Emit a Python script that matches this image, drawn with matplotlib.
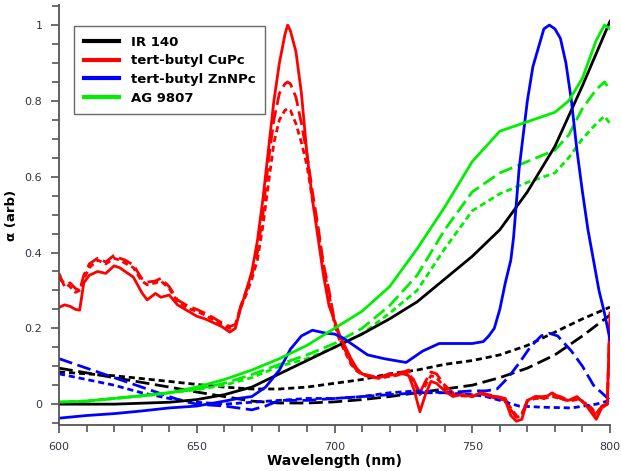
import matplotlib
matplotlib.use("Agg")
import matplotlib.pyplot as plt
from matplotlib.ticker import MultipleLocator, FuncFormatter

# ---------------- data ----------------
# IR 140
ir_wl = [600, 620, 640, 650, 660, 670, 680, 690, 700, 710, 720, 730, 740, 750, 760, 770, 780, 790, 800]
ir_solid = [0.0, 0.0, 0.005, 0.012, 0.025, 0.045, 0.08, 0.115, 0.15, 0.185, 0.225, 0.27, 0.33, 0.39, 0.46, 0.56, 0.68, 0.84, 1.01]
ir_long = [0.095, 0.07, 0.045, 0.032, 0.02, 0.008, 0.003, 0.003, 0.006, 0.012, 0.02, 0.03, 0.04, 0.05, 0.07, 0.095, 0.13, 0.18, 0.235]
ir_short = [0.085, 0.075, 0.06, 0.052, 0.045, 0.04, 0.04, 0.045, 0.055, 0.065, 0.08, 0.09, 0.105, 0.115, 0.13, 0.155, 0.19, 0.225, 0.256]

# tert-butyl CuPc
cupc_wl = [600, 602, 604, 606, 607.5, 609, 611, 614, 617, 620, 622, 624, 627, 630, 632, 635, 637, 640,
           643, 647, 650, 653, 656, 659, 662, 664, 666, 668, 670, 672, 674, 676, 678, 680, 682, 683,
           684, 686, 688, 690, 692, 694, 696, 698, 700, 702, 704, 706, 708, 710, 713, 716, 719, 722,
           725, 727, 729, 731, 733, 735, 737, 740, 743, 746, 750, 753, 756, 759, 762, 764, 766, 768,
           770, 773, 776, 779, 782, 785, 788, 791, 793, 795, 797, 799, 800]
cupc_solid = [0.255, 0.262, 0.258, 0.25, 0.248, 0.32, 0.34, 0.35, 0.345, 0.365, 0.36, 0.35, 0.335, 0.295,
              0.275, 0.292, 0.282, 0.288, 0.262, 0.245, 0.232, 0.225, 0.215, 0.205, 0.19, 0.2, 0.255,
              0.3, 0.35, 0.43, 0.54, 0.67, 0.8, 0.9, 0.975, 1.0, 0.985, 0.93, 0.82, 0.66, 0.54, 0.44,
              0.34, 0.26, 0.22, 0.18, 0.15, 0.12, 0.095, 0.08, 0.072, 0.07, 0.075, 0.078, 0.08, 0.075,
              0.035, -0.02, 0.025, 0.06, 0.055, 0.035, 0.02, 0.025, 0.02, 0.03, 0.022, 0.02, 0.01,
              -0.03, -0.045, -0.04, 0.01, 0.02, 0.015, 0.03, 0.015, 0.01, 0.02, 0.0, -0.02, -0.04,
              -0.01, 0.0, 0.24]
cupc_long = [0.345, 0.31, 0.32, 0.305, 0.3, 0.34, 0.37, 0.385, 0.375, 0.393, 0.385, 0.38, 0.367, 0.332,
             0.322, 0.325, 0.332, 0.31, 0.275, 0.258, 0.25, 0.24, 0.228, 0.215, 0.205, 0.21, 0.26,
             0.3, 0.34, 0.4, 0.5, 0.64, 0.75, 0.82, 0.845, 0.85, 0.845, 0.81, 0.74, 0.66, 0.56, 0.47,
             0.37, 0.3, 0.22, 0.17, 0.14, 0.11, 0.09, 0.08, 0.075, 0.07, 0.078, 0.08, 0.085, 0.09,
             0.06, 0.03, 0.06, 0.085, 0.08, 0.05, 0.03, 0.025, 0.025, 0.03, 0.025, 0.02, 0.015,
             -0.015, -0.035, -0.03, 0.01, 0.02, 0.02, 0.025, 0.02, 0.01, 0.015, 0.005, -0.01, -0.03,
             -0.005, 0.0, 0.23]
cupc_short = [0.33, 0.32, 0.31, 0.295, 0.3, 0.33, 0.36, 0.38, 0.37, 0.385, 0.38, 0.372, 0.36, 0.325,
              0.315, 0.32, 0.325, 0.305, 0.27, 0.252, 0.245, 0.235, 0.222, 0.21, 0.2, 0.205, 0.255,
              0.29, 0.33, 0.38, 0.47, 0.58, 0.69, 0.75, 0.775, 0.78, 0.775, 0.74, 0.69, 0.63, 0.54,
              0.46, 0.36, 0.29, 0.21, 0.165, 0.135, 0.105, 0.088, 0.078, 0.072, 0.068, 0.072, 0.075,
              0.08, 0.085, 0.055, 0.025, 0.05, 0.075, 0.07, 0.045, 0.028, 0.022, 0.02, 0.028, 0.02,
              0.015, 0.01, -0.01, -0.03, -0.025, 0.008, 0.015, 0.015, 0.02, 0.015, 0.008, 0.012,
              0.003, -0.008, -0.025, -0.005, 0.0, 0.22]

# tert-butyl ZnNPc
znn_wl = [600, 610, 620, 630, 640, 650, 660, 665, 670, 675, 680, 684, 688, 692, 697, 700, 703, 708,
          712, 718, 726, 732, 738, 745, 750, 754, 756, 758, 760, 762, 764, 765, 767, 770, 772, 774,
          776, 778, 780, 782, 784, 786, 788, 790, 792, 794, 796, 798, 800]
znn_solid = [-0.037, -0.03, -0.025, -0.018, -0.01, -0.005, 0.008, 0.015, 0.02, 0.045, 0.09, 0.145,
             0.18, 0.195, 0.187, 0.185, 0.175, 0.15, 0.13, 0.12, 0.11, 0.14, 0.16, 0.16, 0.16, 0.165,
             0.18, 0.2, 0.25, 0.32, 0.38, 0.44, 0.62, 0.8, 0.89, 0.94, 0.99, 1.0, 0.99, 0.965, 0.9,
             0.8, 0.67, 0.56, 0.46, 0.38, 0.3, 0.24, 0.17]
znn_dash_wl = [600, 610, 620, 630, 640, 645, 650, 660, 670, 675, 680, 690, 700, 710, 720, 730, 740,
               750, 755, 759, 763, 767, 771, 775, 778, 781, 786, 790, 794, 797, 800]
znn_long = [0.12, 0.095, 0.07, 0.045, 0.02, 0.008, 0.0, -0.005, -0.015, -0.005, 0.01, 0.01, 0.015,
            0.02, 0.025, 0.03, 0.03, 0.035, 0.035, 0.04, 0.07, 0.108, 0.15, 0.18, 0.187, 0.18, 0.14,
            0.1, 0.05, 0.03, 0.01]
znn_dot_wl = [600, 610, 620, 630, 640, 650, 660, 670, 680, 690, 700, 710, 720, 730, 740, 750, 755,
              760, 767, 775, 786, 795, 800]
znn_short = [0.08, 0.065, 0.05, 0.03, 0.015, 0.005, 0.0, 0.005, 0.01, 0.015, 0.015, 0.02, 0.03,
             0.035, 0.03, 0.025, 0.02, 0.01, -0.005, -0.008, -0.01, 0.0, 0.01]

# AG 9807
ag_wl = [600, 610, 620, 630, 640, 650, 660, 670, 680, 690, 700, 710, 720, 730, 740, 750, 760, 770,
         780, 785, 790, 795, 798, 800]
ag_solid = [0.005, 0.008, 0.015, 0.022, 0.03, 0.045, 0.065, 0.09, 0.12, 0.155, 0.2, 0.245, 0.31,
            0.41, 0.52, 0.64, 0.72, 0.745, 0.77, 0.8, 0.86, 0.96, 1.0, 0.99]
ag_long = [0.005, 0.008, 0.015, 0.022, 0.03, 0.04, 0.055, 0.078, 0.105, 0.13, 0.16, 0.2, 0.26,
           0.34, 0.46, 0.56, 0.61, 0.64, 0.67, 0.71, 0.78, 0.83, 0.85, 0.83]
ag_short = [0.005, 0.008, 0.015, 0.022, 0.03, 0.038, 0.05, 0.07, 0.1, 0.12, 0.15, 0.185, 0.24,
            0.3, 0.41, 0.51, 0.555, 0.585, 0.61, 0.65, 0.7, 0.74, 0.76, 0.74]

legend_labels = ["IR 140", "tert-butyl CuPc", "tert-butyl ZnNPc", "AG 9807"]
colors = ["#000000", "#ff0000", "#0000ff", "#00ee00"]

# ---------------- figure ----------------
fig = plt.figure(figsize=(6.21, 4.71), dpi=100)
ax = fig.add_axes([59 / 621, 1 - 425 / 471, 551 / 621, 420 / 471])

LW = 2.0
LONG = (0, (5, 2))
SHORT = (0, (2.2, 1.4))

series = [
    (ir_wl, ir_solid, ir_long, ir_short, ir_wl, ir_wl),
    (cupc_wl, cupc_solid, cupc_long, cupc_short, cupc_wl, cupc_wl),
    (znn_wl, znn_solid, znn_long, znn_short, znn_dash_wl, znn_dot_wl),
]

# dashed / dotted traces first, solid traces on top
for color, (wl, solid, longd, shortd, wl_l, wl_s) in zip(colors, series):
    ax.plot(wl_l, longd, color=color, lw=LW, linestyle=LONG)
    ax.plot(wl_s, shortd, color=color, lw=LW, linestyle=SHORT)
ax.plot(ag_wl, ag_long, color=colors[3], lw=LW, linestyle=LONG)
ax.plot(ag_wl, ag_short, color=colors[3], lw=LW, linestyle=SHORT)

handles = []
for color, label, (wl, solid, *_rest) in zip(colors, legend_labels, series):
    h, = ax.plot(wl, solid, color=color, lw=LW, label=label)
    handles.append(h)
h, = ax.plot(ag_wl, ag_solid, color=colors[3], lw=LW, label=legend_labels[3])
handles.append(h)

ax.set_xlim(600, 800)
ax.set_ylim(-0.055, 1.053)

for side in ("top", "right"):
    ax.spines[side].set_visible(False)
for side in ("left", "bottom"):
    ax.spines[side].set_color("#555555")
    ax.spines[side].set_linewidth(1.3)

ax.xaxis.set_major_locator(MultipleLocator(50))
ax.xaxis.set_minor_locator(MultipleLocator(10))
ax.yaxis.set_major_locator(MultipleLocator(0.2))
ax.yaxis.set_minor_locator(MultipleLocator(0.05))
ax.yaxis.set_major_formatter(FuncFormatter(lambda v, p: f"{v:g}" if abs(v) > 1e-9 else "0"))
ax.tick_params(which="major", direction="out", length=6, width=1.2, color="#555555",
               labelsize=8, labelcolor="#333344", pad=6)
ax.tick_params(which="minor", direction="out", length=5, width=1.2, color="#555555")

ax.set_xlabel("Wavelength (nm)", fontsize=10, fontweight="bold", labelpad=2)
ax.set_ylabel("α (arb)", fontsize=9.5, fontweight="bold", labelpad=5)

leg = ax.legend(handles=handles, loc="upper left", bbox_to_anchor=(0.028, 0.95),
                prop={"weight": "bold", "size": 9.5}, frameon=True, fancybox=False,
                handlelength=2.6, handletextpad=0.9, labelspacing=0.42, borderpad=0.75,
                borderaxespad=0)
leg.get_frame().set_edgecolor("#444444")
leg.get_frame().set_linewidth(1.0)
for line in leg.get_lines():
    line.set_linewidth(3.0)

fig.savefig("out.png", dpi=100)
